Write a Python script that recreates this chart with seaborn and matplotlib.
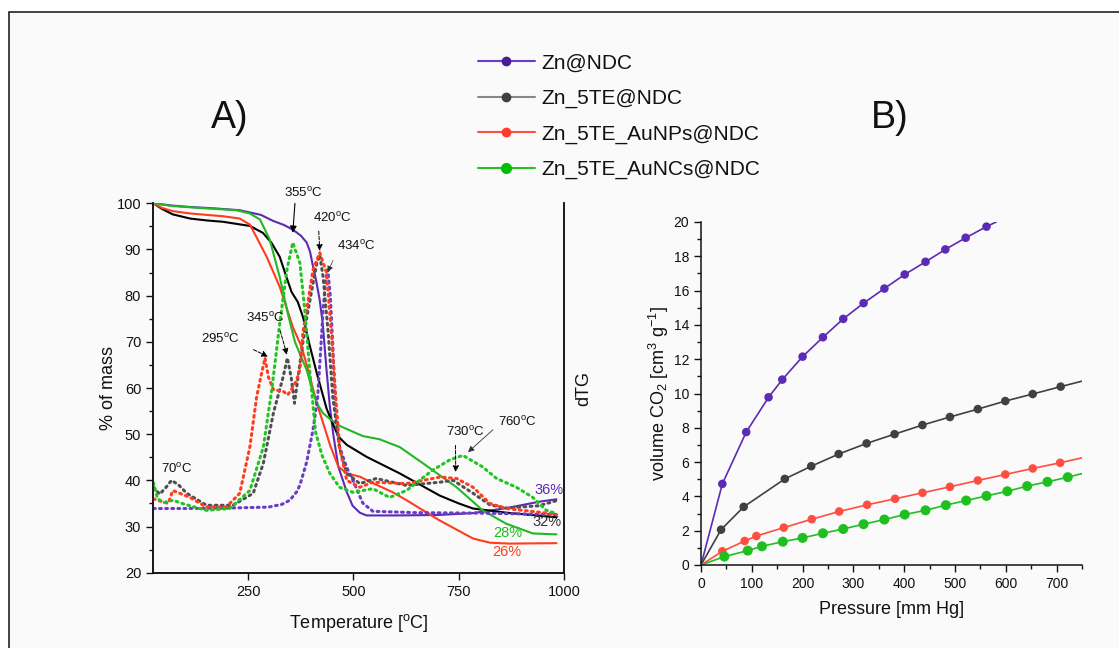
import numpy as np
import pandas as pd
import seaborn as sns
import matplotlib
matplotlib.use("Agg")
import matplotlib.pyplot as plt
from matplotlib.lines import Line2D
from matplotlib.patches import Rectangle

# ---- series names / colours
names = ["Zn@NDC", "Zn_5TE@NDC", "Zn_5TE_AuNPs@NDC", "Zn_5TE_AuNCs@NDC"]
line_cols = ["#5b2bb5", "#000000", "#ff3c1e", "#22b822"]
dot_cols = ["#6a3dc8", "#505050", "#ff3c1e", "#22c422"]
iso_cols = ["#5b2bb5", "#404040", "#ff4d40", "#1fbf1f"]
leg_line = ["#6a3dc8", "#888888", "#ff4d40", "#22c422"]
leg_mark = ["#4a1d96", "#404040", "#ff3b30", "#00c000"]

# ---- A) TG curves (solid)
tg_purple_T = [25, 70, 112, 170, 230, 280, 309, 335, 356, 375, 389, 397, 404, 412, 420, 427, 436, 444, 452, 464, 484, 498, 515, 531, 600, 700, 783, 864, 943, 982]
tg_purple = [100, 99.5, 99.2, 98.9, 98.5, 97.5, 96.2, 95.3, 94.3, 93.0, 91.5, 89.5, 86.3, 83, 79, 74, 64, 56, 50, 43, 37.5, 34.5, 33, 32.4, 32.4, 32.5, 32.9, 34.0, 35.4, 35.9]
tg_black_T = [25, 45, 71, 112, 150, 190, 254, 285, 305, 325, 341, 353, 368, 380, 397, 413, 436, 444, 464, 484, 531, 610, 705, 750, 784, 863, 982]
tg_black = [100, 98.8, 97.6, 96.7, 96.3, 96.0, 95.1, 93.6, 91.5, 88.4, 84, 80.8, 78.6, 75.4, 68.9, 63.2, 55.6, 53.8, 49.5, 47.7, 45.1, 41.5, 36.7, 35, 33.9, 33, 32]
tg_red_T = [25, 45, 71, 112, 150, 190, 230, 254, 273, 294, 325, 356, 377, 392, 413, 428, 445, 464, 484, 515, 546, 594, 626, 705, 784, 824, 870, 982]
tg_red = [100, 99.0, 98.3, 97.8, 97.5, 97.2, 96.7, 95.4, 92.1, 88.4, 81.9, 73.2, 68.9, 64, 56.7, 52.4, 47.5, 43, 41.5, 40.8, 39.4, 37.4, 35.7, 31.3, 27.4, 26.5, 26.3, 26.4]
tg_green_T = [25, 71, 151, 222, 254, 278, 301, 325, 344, 361, 377, 389, 401, 413, 428, 444, 467, 522, 562, 610, 665, 745, 807, 863, 926, 982]
tg_green = [100, 99.4, 98.9, 98.5, 97.8, 96.5, 92.2, 84, 76.2, 70, 66.5, 63.9, 60, 56.7, 54.5, 53.3, 51.8, 49.6, 48.9, 47.2, 43.7, 38.5, 33.5, 30.6, 28.5, 28.3]

# ---- A) dTG curves (dotted), drawn on the same visual scale
dtg_purple_T = [25, 100, 200, 298, 330, 349, 365, 373, 389, 404, 415, 422, 428, 434, 439, 445, 451, 458, 467, 483, 499, 522, 546, 650, 800, 982]
dtg_purple = [33.9, 33.9, 34.0, 34.2, 34.8, 35.7, 37.5, 39, 44, 51, 58, 68, 77, 83.5, 85.6, 80, 69, 53, 47.3, 43, 40, 35.1, 33.3, 33, 32.9, 32.6]
dtg_black_T = [25, 40, 55, 68, 85, 104, 151, 214, 262, 286, 310, 333, 343, 352, 360, 373, 385, 401, 413, 420, 428, 440, 451, 467, 484, 515, 554, 626, 705, 737, 784, 824, 863, 940, 982]
dtg_black = [38.5, 37, 38.5, 40, 39, 37.2, 34.6, 34.6, 37.2, 43.7, 54.6, 62.4, 66.5, 62.4, 56.7, 65.4, 73.2, 81.2, 87, 88.8, 84, 72, 58, 47, 41.5, 39.3, 40.4, 38.9, 39.6, 40, 37.2, 34.7, 34, 34.5, 35.6]
dtg_red_T = [25, 45, 60, 71, 112, 151, 198, 230, 254, 270, 280, 290, 298, 310, 333, 344, 357, 365, 373, 380, 389, 404, 420, 436, 449, 458, 467, 484, 515, 546, 626, 705, 745, 784, 824, 863, 942, 982]
dtg_red = [36, 35.4, 35.0, 37.8, 36.3, 34.2, 34.2, 37.2, 47.2, 58, 62.4, 66.5, 62.4, 59.6, 59.3, 58.5, 60.3, 61.7, 64, 72, 77, 85.6, 89.3, 85, 70.4, 58, 47.2, 40, 38.5, 39.6, 39.3, 40.7, 40.4, 38.5, 35, 33.9, 33.1, 32.6]
dtg_green_T = [25, 35, 50, 71, 100, 151, 206, 254, 286, 306, 325, 342, 356, 373, 385, 396, 410, 425, 444, 467, 499, 546, 586, 626, 688, 730, 760, 807, 840, 887, 926, 958, 982]
dtg_green = [39.5, 36, 35.2, 35.7, 34.8, 33.5, 33.9, 37.8, 47.2, 59.6, 74, 85.6, 91.5, 87, 76.3, 63.9, 50.5, 45.5, 41.5, 38.5, 37.4, 38.2, 36.3, 37.8, 42.2, 44.5, 45.4, 42.9, 40.4, 38.5, 36.3, 33.5, 32.8]

# ---- B) CO2 isotherms: measured points
iso_purple_p = [42, 89, 133, 160, 200, 240, 280, 320, 361, 401, 442, 481, 521, 562]
iso_purple = [4.73, 7.75, 9.78, 10.81, 12.15, 13.28, 14.35, 15.27, 16.12, 16.94, 17.68, 18.40, 19.08, 19.73]
iso_black_p = [39.5, 84, 165, 217, 271, 326, 381, 436, 490, 545, 599, 653, 708]
iso_black = [2.06, 3.39, 5.02, 5.76, 6.47, 7.09, 7.63, 8.16, 8.63, 9.09, 9.56, 9.97, 10.40]
iso_red_p = [42, 86, 109, 163, 218, 272, 327, 382, 436, 490, 545, 599, 653, 707]
iso_red = [0.80, 1.40, 1.69, 2.18, 2.67, 3.12, 3.51, 3.86, 4.21, 4.56, 4.93, 5.28, 5.63, 5.96]
iso_green_p = [46, 92, 120, 161, 200, 240, 280, 320, 361, 401, 442, 482, 522, 562, 603, 642, 682, 722]
iso_green = [0.49, 0.84, 1.09, 1.36, 1.58, 1.85, 2.10, 2.38, 2.65, 2.94, 3.19, 3.49, 3.76, 4.03, 4.30, 4.60, 4.85, 5.12]
# fit lines start at the origin and run to where they leave the plot
fit_start = (0, 0)
fit_end_p = [581, 750, 750, 750]
fit_end = [20.0, 10.72, 6.25, 5.33]

sns.set_style("ticks")
plt.rcParams['font.family'] = ['Liberation Sans', 'DejaVu Sans']
plt.rcParams['mathtext.fontset'] = 'custom'
plt.rcParams['mathtext.rm'] = 'Liberation Sans'
plt.rcParams['mathtext.it'] = 'Liberation Sans:italic'
plt.rcParams['axes.facecolor'] = '#fafafa'
for k in ('text.color', 'axes.labelcolor', 'xtick.color', 'ytick.color', 'axes.edgecolor'):
    plt.rcParams[k] = '#111111'

fig = plt.figure(figsize=(11.19, 6.48), dpi=100, facecolor='white')
# light panel with a dark frame (only top/left edges show)
fig.patches.append(Rectangle((9 / 1119, -0.1), 1.2, 1.1 - 12 / 648, transform=fig.transFigure,
                             facecolor='#fafafa', edgecolor='#222222', lw=1.2, zorder=-10))

axA = fig.add_axes([153 / 1119, 1 - 572.7 / 648, 411 / 1119, 369.4 / 648])
axB = fig.add_axes([701 / 1119, 1 - 565 / 648, 381 / 1119, 343 / 648])

tg = [(tg_purple_T, tg_purple), (tg_black_T, tg_black), (tg_red_T, tg_red), (tg_green_T, tg_green)]
dtg = [(dtg_purple_T, dtg_purple), (dtg_black_T, dtg_black), (dtg_red_T, dtg_red), (dtg_green_T, dtg_green)]

axT = axA.twinx()
for (T, v), c in zip(tg, line_cols):
    sns.lineplot(x=T, y=v, ax=axA, color=c, lw=1.5, sort=False, estimator=None)
for (T, v), c in zip(dtg, dot_cols):
    sns.lineplot(x=T, y=v, ax=axT, color=c, lw=2.2, sort=False, estimator=None,
                 linestyle=(0, (0.6, 1.4)), dash_capstyle='round')

for a in (axA, axT):
    a.set_xlim(24, 1000)
    a.set_ylim(20, 100)
axA.set_xticks([250, 500, 750, 1000])
axA.set_yticks(np.arange(20, 101, 10))
axA.set_yticks(np.arange(25, 100, 10), minor=True)
axA.tick_params(axis='both', which='major', labelsize=10.5, direction='out', length=5, width=1)
axA.tick_params(axis='y', which='minor', direction='out', length=3, width=1)
axT.set_yticks([])
axT.set_ylabel("dTG", fontsize=13, labelpad=8)
axA.set_xlabel(r"Temperature [$^{\mathrm{o}}$C]", fontsize=13, labelpad=10)
axA.set_ylabel("% of mass", fontsize=13, labelpad=0)
for a in (axA, axT):
    a.spines['top'].set_visible(False)
    for s in ('left', 'bottom', 'right'):
        a.spines[s].set_linewidth(1.1)

deg = r"$^{\mathrm{o}}$C"
ann = dict(fontsize=9.5, ha='center', va='center')
axT.annotate("355" + deg, xy=(356, 93.6), xytext=(380, 102.2), annotation_clip=False,
             arrowprops=dict(arrowstyle='-|>', color='k', lw=0.8, mutation_scale=10,
                             shrinkA=0, shrinkB=0, relpos=(0.3, 0)), **ann)
axT.annotate("420" + deg, xy=(420, 89.7), xytext=(449, 96.8),
             arrowprops=dict(arrowstyle='-|>', color='k', lw=0.7, ls='--', mutation_scale=9,
                             shrinkA=2, shrinkB=0, relpos=(0.15, 0)), **ann)
axT.annotate("434" + deg, xy=(439, 85.1), xytext=(508, 90.7),
             arrowprops=dict(arrowstyle='-|>', color='#333333', lw=0.5, mutation_scale=9,
                             shrinkA=3, shrinkB=0, relpos=(0.0, 0.2)), **ann)
axT.annotate("345" + deg, xy=(342, 67.2), xytext=(290, 75.2),
             arrowprops=dict(arrowstyle='-|>', color='k', lw=0.7, ls='--', mutation_scale=9,
                             shrinkA=2, shrinkB=0, relpos=(0.85, 0)), **ann)
axT.annotate("295" + deg, xy=(297, 66.8), xytext=(185, 70.6),
             arrowprops=dict(arrowstyle='-|>', color='k', lw=0.7, ls='--', mutation_scale=9,
                             shrinkA=8, shrinkB=0, relpos=(1.0, 0.2)), **ann)
axT.text(81, 42.5, "70" + deg, **ann)
axT.annotate("730" + deg, xy=(743, 41.8), xytext=(765, 50.4),
             arrowprops=dict(arrowstyle='-|>', color='k', lw=0.7, ls='--', mutation_scale=9,
                             shrinkA=2, shrinkB=0, relpos=(0.25, 0)), **ann)
axT.annotate("760" + deg, xy=(772, 46.1), xytext=(890, 52.6),
             arrowprops=dict(arrowstyle='-|>', color='#333333', lw=0.6, mutation_scale=9,
                             shrinkA=2, shrinkB=0, relpos=(0.0, 0.3)), **ann)
pct = dict(fontsize=10.5, ha='center', va='center')
axT.text(964, 37.9, "36%", color=line_cols[0], **pct)
axT.text(959, 31.0, "32%", color='#333333', **pct)
axT.text(867, 28.5, "28%", color=line_cols[3], **pct)
axT.text(865, 24.4, "26%", color=line_cols[2], **pct)

# ---- B)
iso = [(iso_purple_p, iso_purple), (iso_black_p, iso_black), (iso_red_p, iso_red), (iso_green_p, iso_green)]
msizes = [38, 38, 38, 52]
for i, ((p, v), c) in enumerate(zip(iso, iso_cols)):
    lp = [fit_start[0]] + list(p) + [fit_end_p[i]]
    lv = [fit_start[1]] + list(v) + [fit_end[i]]
    sns.lineplot(x=lp, y=lv, ax=axB, color=c, lw=1.2, sort=False, estimator=None)
    sns.scatterplot(x=p, y=v, ax=axB, color=c, s=msizes[i], edgecolor='none', zorder=3)
axB.set_xlim(0, 750)
axB.set_ylim(0, 20)
axB.set_xticks(np.arange(0, 701, 100))
axB.set_xticks(np.arange(50, 751, 100), minor=True)
axB.set_yticks(np.arange(0, 21, 2))
axB.set_yticks(np.arange(1, 20, 2), minor=True)
axB.tick_params(axis='both', which='major', labelsize=10, direction='out', length=5, width=1)
axB.tick_params(axis='both', which='minor', direction='out', length=3, width=1)
axB.set_xlabel("Pressure [mm Hg]", fontsize=13, labelpad=7)
axB.set_ylabel(r"volume CO$_2$ [cm$^3$ g$^{-1}$]", fontsize=13, labelpad=2)
axB.spines['top'].set_visible(False)
axB.spines['right'].set_visible(False)
axB.spines['left'].set_linewidth(1.1)
axB.spines['bottom'].set_linewidth(1.1)

# titles
fig.text(230 / 1119, 1 - 118 / 648, "A)", fontsize=27, ha='center', va='center')
fig.text(890 / 1119, 1 - 118 / 648, "B)", fontsize=27, ha='center', va='center')

# legend
handles = [Line2D([0], [0], color=lc, lw=1.5, marker='o', markersize=(7 if i == 3 else 6),
                  markerfacecolor=mc, markeredgecolor=mc)
           for i, (lc, mc) in enumerate(zip(leg_line, leg_mark))]
fig.legend(handles, names, loc='upper left', bbox_to_anchor=(459 / 1119, 1 - 35 / 648),
           frameon=False, fontsize=15, handlelength=2.75, handletextpad=0.3, labelspacing=0.78)

fig.savefig("out.png", dpi=100, facecolor=fig.get_facecolor())
